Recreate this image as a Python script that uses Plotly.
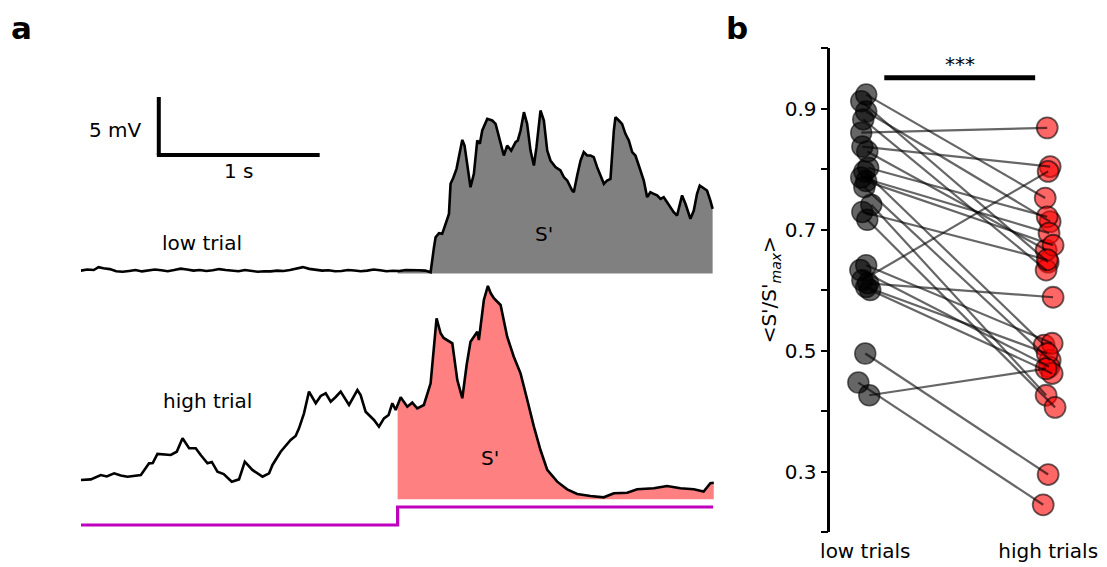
import plotly.graph_objects as go

W, H = 1107, 567
FONT = "DejaVu Sans"

# ---------------- Panel a data ----------------
stim_onset = 1.969
t_end = 3.93
# low trial (mV relative to its baseline)
low_t = [0.00,0.04,0.08,0.11,0.14,0.18,0.22,0.26,0.30,0.34,0.38,0.42,0.46,0.50,0.54,0.58,0.62,0.66,0.70,0.74,
         0.78,0.82,0.86,0.90,0.94,0.98,1.02,1.06,1.10,1.14,1.18,1.22,1.26,1.30,1.34,1.38,1.42,1.46,1.50,1.54,
         1.58,1.62,1.66,1.70,1.74,1.78,1.82,1.86,1.90,1.94,1.98,2.02,2.06,2.10,2.14,
         2.174,2.195,2.205,2.226,2.246,2.267,2.288,2.298,2.315,2.335,2.360,2.371,2.385,2.406,2.422,2.443,2.464,
         2.480,2.495,2.526,2.557,2.578,2.598,2.629,2.650,2.675,2.702,2.716,2.733,2.754,2.774,2.795,2.816,2.832,
         2.857,2.878,2.899,2.919,2.950,2.981,3.002,3.023,3.054,3.064,3.085,3.106,3.126,3.147,3.168,3.188,3.209,
         3.230,3.251,3.271,3.292,3.313,3.323,3.344,3.364,3.385,3.406,3.427,3.447,3.468,3.499,3.520,3.540,3.561,
         3.582,3.603,3.623,3.644,3.665,3.685,3.706,3.721,3.737,3.758,3.789,3.810,3.830,3.847,3.872,3.892,3.913,3.927]
low_v = [0.25,0.35,0.30,0.55,0.45,0.38,0.20,0.15,0.22,0.30,0.18,0.25,0.35,0.28,0.20,0.30,0.42,0.35,0.25,0.30,
         0.22,0.28,0.38,0.30,0.25,0.20,0.30,0.22,0.15,0.20,0.18,0.25,0.22,0.30,0.40,0.55,0.40,0.35,0.25,0.28,
         0.20,0.22,0.30,0.26,0.20,0.25,0.35,0.28,0.20,0.24,0.22,0.30,0.26,0.28,0.25,
         0.11,2.27,3.13,3.48,3.42,4.27,5.14,7.73,8.25,9.02,10.60,11.52,11.03,8.74,7.44,8.59,11.47,
         11.18,12.33,13.33,13.19,12.90,11.75,10.17,11.03,10.60,11.32,11.47,12.33,13.91,12.90,10.60,9.31,10.89,
         14.05,13.19,10.60,9.74,9.17,8.88,8.31,8.02,7.15,7.01,8.45,9.74,10.46,10.17,10.17,10.03,9.17,
         8.45,7.73,8.02,8.16,12.33,13.48,13.19,12.90,12.04,11.47,10.46,10.17,9.31,8.02,6.58,7.01,6.87,
         6.73,6.44,6.58,6.15,5.72,5.29,5.00,5.86,6.73,6.01,4.71,5.43,6.87,7.59,7.30,7.15,6.29,5.57]

# high trial (mV relative to its fill baseline)
high_t = [0.000,0.062,0.124,0.161,0.207,0.248,0.290,0.329,0.373,0.424,0.447,0.476,0.516,0.559,0.596,0.632,0.673,
          0.714,0.745,0.787,0.814,0.849,0.888,0.938,0.983,1.019,1.066,1.129,1.170,1.191,1.242,1.304,1.335,1.356,
          1.387,1.418,1.460,1.491,1.522,1.553,1.584,1.615,1.667,1.689,1.719,1.739,1.770,1.822,1.853,1.884,1.913,
          1.936,1.957,1.988,2.029,2.060,2.091,2.132,2.174,2.211,2.236,2.255,2.278,2.309,2.340,2.371,2.398,2.422,
          2.464,2.474,2.505,2.530,2.547,2.567,2.609,2.650,2.691,2.733,2.775,2.816,2.857,2.899,2.961,3.023,3.085,
          3.168,3.250,3.313,3.396,3.458,3.561,3.644,3.727,3.810,3.871,3.913,3.934]
high_v = [1.66,1.72,2.09,1.97,2.24,2.05,1.95,2.01,2.09,3.10,3.13,3.91,3.86,3.82,4.10,5.26,4.40,
          4.40,3.82,3.10,3.22,2.38,2.18,1.52,1.72,3.24,2.53,1.95,2.24,2.96,4.10,5.11,5.46,6.12,
          7.41,9.28,8.28,8.91,9.14,8.41,8.82,9.28,8.13,8.73,9.42,8.99,7.55,6.84,6.26,6.98,7.27,
          8.28,7.70,8.79,7.98,8.33,7.84,8.13,10.00,15.60,14.31,13.91,13.73,13.45,10.28,8.71,11.58,13.59,
          14.45,13.73,17.18,18.39,17.78,17.33,16.75,14.02,12.29,10.86,8.56,6.26,4.25,2.53,1.52,0.86,0.46,
          0.28,0.17,0.52,0.57,0.86,0.95,1.15,0.95,0.86,0.66,1.38,1.43]

stim_t = [0.0, stim_onset, stim_onset, t_end]
stim_level = [0, 0, 1, 1]

# ---------------- Panel b data ----------------
low_vals = [0.923,0.912,0.895,0.882,0.860,0.837,0.829,0.802,0.796,0.786,0.780,0.770,
            0.741,0.729,0.716,0.641,0.633,0.616,0.611,0.605,0.600,0.495,0.447,0.426]
high_vals = [0.752,0.646,0.713,0.633,0.868,0.804,0.666,0.721,0.509,0.694,0.674,0.484,
             0.426,0.650,0.406,0.512,0.473,0.796,0.588,0.495,0.462,0.295,0.245,0.470]
low_jit = [0.005,-0.022,0.005,-0.011,-0.022,-0.016,0.011,0.016,-0.005,-0.022,0.005,-0.005,
           0.033,-0.016,0.011,0.005,-0.027,-0.016,0.016,0.005,0.027,0.0,-0.038,0.022]
high_jit = [-0.016,0.0,0.011,-0.011,-0.005,0.011,-0.011,-0.005,-0.022,0.005,0.027,0.011,
            -0.011,-0.005,0.038,0.022,0.005,0.0,0.027,-0.005,0.022,0.0,-0.027,-0.011]
b_tickvals = [0.2,0.3,0.4,0.5,0.6,0.7,0.8,0.9,1.0]
b_ticktext = ["","0.3","","0.5","","0.7","","0.9",""]
x_labels = ["low trials", "high trials"]

# ---------------- layout helpers (reference pixels -> paper) ----------------
OFF_X, SCALE_X, OFF_Y = 17.1, 0.9917, 8.0

def X(p):
    return (p - OFF_X) / SCALE_X / W

def Y(p):
    return 1 - (p - OFF_Y) / H

PX_PER_S = 161.0
PX_PER_MV = 11.6
a_x0 = 80
low_base_px = 273.5
high_base_px = 499.3
stim_low_px, stim_high_px = 525.0, 507.0

def ymv(px):
    return (H - (px - OFF_Y)) / PX_PER_MV

low_off = ymv(low_base_px)
high_off = ymv(high_base_px)

fig = go.Figure()

def fill_poly(ts, vs, off, t0):
    xs, ys = [t0], [off]
    idx = min(range(len(ts)), key=lambda i: abs(ts[i] - t0))
    xs.append(t0); ys.append(vs[idx] + off)
    for t, v in zip(ts, vs):
        if t > t0:
            xs.append(t); ys.append(v + off)
    xs += [ts[-1], t0]; ys += [off, off]
    return xs, ys

fx, fy = fill_poly(low_t, low_v, low_off, stim_onset)
fig.add_trace(go.Scatter(x=fx, y=fy, fill="toself", fillcolor="#808080", mode="none",
                         xaxis="x", yaxis="y", hoverinfo="skip", showlegend=False))
fx, fy = fill_poly(high_t, high_v, high_off, stim_onset)
fig.add_trace(go.Scatter(x=fx, y=fy, fill="toself", fillcolor="#FF8080", mode="none",
                         xaxis="x", yaxis="y", hoverinfo="skip", showlegend=False))

fig.add_trace(go.Scatter(x=low_t, y=[v + low_off for v in low_v], mode="lines",
                         line=dict(color="black", width=2.6), xaxis="x", yaxis="y", showlegend=False))
fig.add_trace(go.Scatter(x=high_t, y=[v + high_off for v in high_v], mode="lines",
                         line=dict(color="black", width=2.6), xaxis="x", yaxis="y", showlegend=False))
s_lo, s_hi = ymv(stim_low_px), ymv(stim_high_px)
fig.add_trace(go.Scatter(x=stim_t, y=[s_lo + l * (s_hi - s_lo) for l in stim_level], mode="lines",
                         line=dict(color="#BF00BF", width=3.2), xaxis="x", yaxis="y", showlegend=False))

# scale bar
sb_t = (158 - a_x0) / PX_PER_S
sb_y = ymv(155)
fig.add_shape(type="line", x0=sb_t, x1=sb_t, y0=sb_y, y1=sb_y + 5, xref="x", yref="y",
              line=dict(color="black", width=4))
fig.add_shape(type="line", x0=sb_t - 0.012, x1=sb_t + 1, y0=sb_y, y1=sb_y, xref="x", yref="y",
              line=dict(color="black", width=4))

# ---------------- Panel b ----------------
lx = list(low_jit)
hx = [1 + j for j in high_jit]
fig.add_trace(go.Scatter(x=lx, y=low_vals, mode="markers", xaxis="x2", yaxis="y2",
                         marker=dict(size=21, color="rgba(0,0,0,0.6)", line=dict(color="rgba(0,0,0,0.6)", width=1.5)),
                         showlegend=False))
fig.add_trace(go.Scatter(x=hx, y=high_vals, mode="markers", xaxis="x2", yaxis="y2",
                         marker=dict(size=21, color="rgba(255,0,0,0.6)", line=dict(color="rgba(0,0,0,0.6)", width=1.8)),
                         showlegend=False))
for a, b, ja, jb in zip(low_vals, high_vals, lx, hx):
    fig.add_trace(go.Scatter(x=[ja, jb], y=[a, b], mode="lines", xaxis="x2", yaxis="y2",
                             line=dict(color="rgba(0,0,0,0.6)", width=2.2), showlegend=False, hoverinfo="skip"))

sig_x = [0.104, 0.929]
sig_y = 0.951
fig.add_shape(type="line", x0=sig_x[0], x1=sig_x[1], y0=sig_y, y1=sig_y, xref="x2", yref="y2",
              line=dict(color="black", width=5))

def ann(text, px, py, size=20, **kw):
    d = dict(text=text, x=X(px), y=Y(py), xref="paper", yref="paper", showarrow=False,
             xanchor="center", yanchor="middle", font=dict(size=size, family=FONT, color="black"))
    d.update(kw)
    return d

annotations = [
    ann("<b>a</b>", 20.5, 8, size=31, yanchor="top"),
    ann("<b>b</b>", 737, 8, size=31, yanchor="top"),
    ann("5 mV", 115, 130),
    ann("1 s", 238, 171),
    ann("low trial", 201, 243),
    ann("high trial", 207, 401),
    ann("S'", 543, 234),
    ann("S'", 489, 458),
    dict(text="***", x=(sig_x[0] + sig_x[1]) / 2, y=sig_y, xref="x2", yref="y2", yshift=14,
         xanchor="center", yanchor="middle",
         showarrow=False, font=dict(size=20, family=FONT, color="black")),
    ann("&lt;S'/S'<sub><i>max</i></sub>&gt;", 770, 290, textangle=-90),
]

a_x1 = a_x0 + 4 * PX_PER_S
b_x0, b_x1 = 830, 1107
fig.update_layout(
    width=W, height=H,
    margin=dict(l=0, r=0, t=0, b=0),
    paper_bgcolor="white", plot_bgcolor="white",
    font=dict(family=FONT, size=20, color="black"),
    xaxis=dict(domain=[X(a_x0), X(a_x1)], range=[0, 4], visible=False),
    yaxis=dict(domain=[0, 1], range=[0, H / PX_PER_MV], visible=False),
    xaxis2=dict(domain=[X(b_x0), X(b_x1)], range=[-35 / 183, (b_x1 - 865) / 183], anchor="y2",
                showline=False, showgrid=False, zeroline=False, tickvals=[0, 1], ticktext=x_labels,
                ticks="", ticklabelstandoff=5, tickfont=dict(size=20, family=FONT, color="black")),
    yaxis2=dict(domain=[Y(532), Y(48)], range=[0.2, 1.0], anchor="x2",
                showline=True, linecolor="black", linewidth=2.5, showgrid=False, zeroline=False,
                ticks="outside", ticklen=7, tickwidth=2, tickcolor="black",
                tickvals=b_tickvals, ticktext=b_ticktext, tickfont=dict(size=20, family=FONT, color="black")),
    annotations=annotations,
    showlegend=False,
)

fig.write_html("out.html")
